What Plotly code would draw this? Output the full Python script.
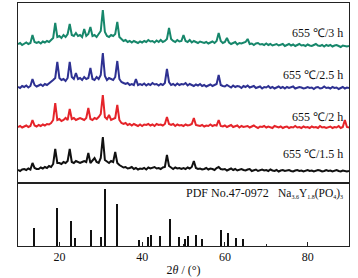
import numpy as np
import plotly.graph_objects as go

# 2-theta grid (degrees) shared by the four measured patterns
two_theta = np.arange(10.0, 90.01, 0.5)

# relative intensities (a.u.)
i_3h = [0, 1, -1, 0.5, 1.5, 0, 1, 9, 2, 1,
        2, 0.5, 2.5, 1.5, 3, 2, 4, 6, 21, 7,
        8, 6, 9, 7, 10, 20, 9, 8, 11, 8,
        9, 7, 15, 8, 10, 17, 8, 9, 7, 10,
        13, 34, 12, 8, 7, 9, 8, 10, 22, 7,
        5, 3, 4, 2, 3, 1.5, 3, 2, 1, 2.5,
        1.5, 3, 2, 4, 2.5, 3, 1.5, 3.5, 2, 4,
        2, 3, 5, 16, 5, 3, 2, 4, 2.5, 3,
        9, 3, 2, 4, 1.5, 3, 2, 1, 2.5, 1.5,
        1, 2, 0.5, 1.5, 2.5, 1, 3, 11, 3, 1,
        2, 6, 1.5, 0, 1, 2, -0.5, 1, 0.5, 1.5,
        2, 5, 0, 0.5, -1, 0.5, 1, -0.5, 0, -1,
        0.5, -1, 0, -1.5, -0.5, 0, -1.5, -1, 0, -2,
        -1, 0, -1.5, -0.5, -2, -1, 0, -1.5, -1, -2,
        -0.5, -1.5, -2, -1, 0, -1.5, -2, -1, -2.5, -1,
        -2, -1, -2.5, -1.5, -1, -2, -3, -1.5, -2, -2.5,
        -2]

i_2_5h = [0, -1, 1, 0, 1.5, -0.5, 1, 8, 2, 0.5,
          1.5, 2.5, 1, 3, 2, 3.5, 5, 7, 9, 25,
          9, 7, 8, 6, 9, 25, 10, 8, 14, 8,
          9, 7, 10, 8, 9, 19, 8, 7, 10, 8,
          12, 34, 11, 7, 9, 8, 7, 10, 26, 8,
          5, 4, 3, 4, 2, 3, 2, 8, 2, 3,
          2, 3.5, 1.5, 3, 2, 4, 2.5, 3, 1.5, 3,
          2, 4, 18, 5, 2, 3, 1.5, 3.5, 2, 3,
          2.5, 4, 1.5, 3, 2, 1, 2.5, 1.5, 3, 1,
          2, 0.5, 1.5, 2.5, 1, 2, 3, 12, 2, 1,
          0.5, 2, 1, -0.5, 1.5, 0, 1, 0.5, -1, 1,
          0, 1.5, -0.5, 0.5, 1, -1, 0, 0.5, -1.5, 0,
          -0.5, 1, -1, 0, -1.5, -0.5, 0.5, -1, 0, -1.5,
          0, -1, -0.5, 0.5, -1.5, -1, 0, -0.5, -1.5, -1,
          0, -1, -0.5, -2, -0.5, 0, -1.5, -1, 0.5, -1,
          -0.5, -1.5, 0, -1, -0.5, -2, -1, 0, -1.5, -0.5,
          -1]

i_2h = [0, 1, -0.5, 0.5, 1.5, 0, 1, 7, 1.5, 0.5,
        2, 1, 2.5, 1.5, 3, 2.5, 4, 7, 24, 7,
        8, 6, 7, 9, 7, 18, 8, 9, 7, 8,
        9, 8, 7, 9, 19, 8, 7, 9, 8, 10,
        13, 32, 10, 8, 12, 7, 8, 9, 22, 7,
        4, 3, 4, 2, 3, 1.5, 3, 2, 1, 2.5,
        1, 2.5, 2, 3, 1.5, 2.5, 1, 3, 2, 2.5,
        1.5, 3, 10, 3, 2, 3, 1, 2.5, 1.5, 2,
        1, 2.5, 1.5, 2, 3, 9, 2, 1.5, 1, 2,
        0.5, 1.5, 1, 2.5, 1, 2, 1.5, 7, 1, 0.5,
        1.5, 0, 1, 2, 0, 0.5, 1.5, -0.5, 1, 0,
        0.5, 1, -0.5, 0.5, 1.5, 0, -1, 0.5, 0, 1,
        -0.5, 0.5, 0, -1, 1, 0, -0.5, 0.5, -1, 0,
        0.5, -1, 0, -0.5, 1, -0.5, 0, -1, 0.5, -0.5,
        0, -1, 0.5, -0.5, 0, -1, 1, -0.5, 0, -1,
        -0.5, 0.5, -1, 0, -0.5, 1, -1, 0, 7, 0,
        -0.5]

i_1_5h = [0, -1, 0.5, 1, 0, 1.5, 0.5, 7, 2, 1,
          1, 2.5, 1.5, 3, 2, 4, 3, 6, 21, 7,
          7, 6, 8, 7, 9, 21, 8, 7, 9, 8,
          7, 8, 9, 8, 17, 7, 9, 12, 8, 7,
          12, 33, 10, 8, 7, 9, 8, 18, 7, 5,
          4, 2.5, 3, 1.5, 2, 3, 1, 2, 0.5, 1.5,
          1, 2, 0.5, 2.5, 1.5, 2, 3, 1.5, 2, 1,
          2.5, 3, 15, 4, 2, 1, 2.5, 1.5, 2, 1,
          2, 1, 2.5, 1.5, 3, 9, 2, 1, 1.5, 0.5,
          1, 2, 0.5, 1.5, 1, 0, 2, 3, 1, 0.5,
          1, -0.5, 0.5, 1.5, 0, 1, -0.5, 0.5, 1, 0,
          -0.5, 0.5, 1, -1, 0, 0.5, -1, 0, 0.5, -0.5,
          0, -1, 0.5, -0.5, -1, 0, -1.5, -0.5, 0, -1,
          -0.5, 0, -1, -1.5, -0.5, 0, -1, -0.5, -1.5, -1,
          0, -1, -0.5, -1.5, -1, 0, -0.5, -1.5, -1, 0,
          -1, -0.5, -1.5, -1, 0, -1, -1.5, -0.5, -1, -1.5,
          -1]

# PDF No.47-0972 reference lines
pdf_pos = [13.9, 19.4, 22.8, 23.9, 27.7, 30.1, 31.0, 34.0, 39.4, 41.4, 42.1,
           44.3, 46.7, 49.0, 50.4, 51.1, 53.0, 54.5, 59.0, 60.9, 62.8, 64.5]
pdf_int = [31, 67, 43, 14, 28, 16, 100, 74, 10, 15, 20,
           18, 47, 15, 12, 17, 20, 12, 28, 22, 14, 12]

series_labels = ["655 ℃/1.5 h", "655 ℃/2 h", "655 ℃/2.5 h", "655 ℃/3 h"]
series_data = [i_1_5h, i_2h, i_2_5h, i_3h]
series_colors = ["#111111", "#e5242a", "#2e3192", "#17876b"]
series_offsets = [13, 56, 96, 139]
label_y = [29, 66, 108, 150]

SERIF = "Liberation Serif, Times New Roman, serif"

fig = go.Figure()
for name, data, col, off in zip(series_labels, series_data, series_colors, series_offsets):
    fig.add_trace(go.Scatter(
        x=two_theta, y=np.array(data, dtype=float) + off, mode="lines",
        line=dict(color=col, width=2), name=name,
        xaxis="x2", yaxis="y2", showlegend=False))

fig.add_trace(go.Bar(x=pdf_pos, y=pdf_int, width=0.32,
                     marker=dict(color="#111111", line=dict(width=0)),
                     xaxis="x", yaxis="y", showlegend=False))

split = 63 / 243
axis_line = dict(showline=True, linecolor="#222222", linewidth=1, mirror=True,
                 showgrid=False, zeroline=False)

fig.update_layout(
    width=358, height=278,
    margin=dict(l=18, r=9, t=3, b=32),
    paper_bgcolor="white", plot_bgcolor="white",
    font=dict(family=SERIF, size=12, color="#111111"),
    xaxis=dict(domain=[0, 1], anchor="y", range=[10, 90], **axis_line,
               ticks="inside", ticklen=4, tickcolor="#222222", tick0=0, dtick=20,
               minor=dict(ticks="inside", ticklen=2, dtick=10, tickcolor="#222222"),
               tickfont=dict(family=SERIF, size=12),
               title=dict(text="2<i>θ</i> / (°)", standoff=2,
                          font=dict(family=SERIF, size=12)),
               automargin=False),
    yaxis=dict(domain=[0, split], anchor="x", range=[0, 110.5], **axis_line,
               showticklabels=False, ticks=""),
    xaxis2=dict(domain=[0, 1], anchor="y2", range=[10, 90], matches="x",
                **axis_line, showticklabels=False, ticks=""),
    yaxis2=dict(domain=[split, 1], anchor="x2", range=[0, 180], **axis_line,
                showticklabels=False, ticks=""),
    bargap=0,
)

for name, ly in zip(series_labels, label_y):
    fig.add_annotation(text=name, xref="paper", x=0.988, xanchor="right",
                       yref="y2", y=ly, yanchor="middle", showarrow=False,
                       font=dict(family=SERIF, size=12, color="#111111"))

fig.add_annotation(text="PDF No.47-0972", xref="paper", x=0.503, xanchor="left",
                   yref="paper", y=0.218, yanchor="middle", showarrow=False,
                   font=dict(family=SERIF, size=12, color="#111111"))
sub = "<sub><span style='font-size:6px'>{}</span></sub>"
formula = "Na" + sub.format("3.6") + "Y" + sub.format("1.8") + "(PO" + sub.format("4") + ")" + sub.format("3")
fig.add_annotation(text=formula,
                   xref="paper", x=0.988, xanchor="right",
                   yref="paper", y=0.218, yanchor="middle", showarrow=False,
                   font=dict(family=SERIF, size=11.5, color="#111111"))

fig.write_html("out.html",
               config={"displayModeBar": False},
               post_script="document.body.style.margin='0';"
                           "document.body.style.overflow='hidden';")
